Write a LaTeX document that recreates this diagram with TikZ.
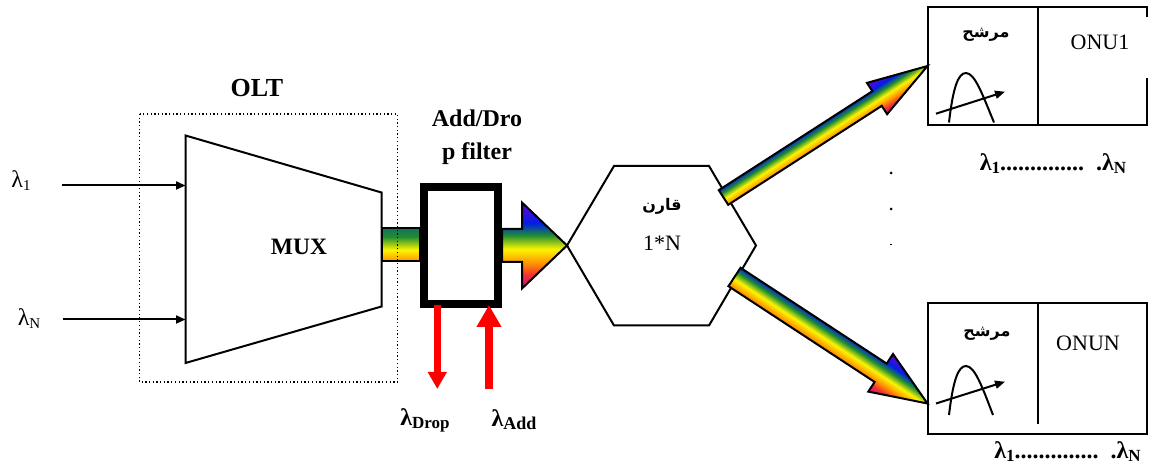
\documentclass[tikz,border=0pt]{standalone}
\usepackage{fontspec}
\setmainfont{Liberation Serif}
\newfontfamily\arabicfont[Script=Arabic]{DejaVu Sans}
\TeXXeTstate=1
\usetikzlibrary{arrows.meta,calc}

\definecolor{rbmagenta}{RGB}{214,0,160}
\definecolor{rbred}{RGB}{240,50,50}
\definecolor{rborange}{RGB}{255,150,0}
\definecolor{rbyellow}{RGB}{250,245,0}
\definecolor{rbgreen}{RGB}{30,140,50}
\definecolor{rbblue}{RGB}{0,30,230}
\definecolor{rbpurple}{RGB}{110,0,210}
\pgfdeclareverticalshading{rainbow}{100bp}{color(0bp)=(rbmagenta); color(25bp)=(rbmagenta);
    color(33bp)=(rbred); color(40bp)=(rborange); color(48bp)=(rbyellow);
    color(56bp)=(rbgreen); color(63bp)=(rbblue); color(75bp)=(rbpurple); color(100bp)=(rbpurple)}
\pgfdeclareverticalshading{rainbowshaft}{100bp}{color(0bp)=(rborange); color(25bp)=(rborange);
    color(42bp)=(rbyellow); color(62bp)=(rbgreen); color(75bp)=(rbgreen!75!rbblue); color(100bp)=(rbblue)}

\tikzstyle{outline} = [draw, line width=2pt, line join=miter]
\tikzstyle{line} = [draw, line width=2pt, -{Triangle[length=9.5pt,width=8pt]}]
\tikzstyle{redline} = [draw=red, -{Triangle[fill=red,length=17pt,width=18pt]}]
\tikzstyle{rainbowbody} = [draw, line width=2pt, shade, shading=rainbow, miter limit=20]
\tikzstyle{bold} = [font=\fontsize{24}{33}\selectfont\bfseries, align=center, inner sep=0pt]
\tikzstyle{plain} = [font=\fontsize{22}{24}\selectfont, inner sep=0pt]
\tikzstyle{lamtext} = [font=\fontsize{24}{24}\selectfont, inner sep=0pt]
\tikzstyle{lambold} = [font=\fontsize{24}{24}\selectfont\bfseries, inner sep=0pt]
\tikzstyle{arabic} = [font=\fontsize{16}{18}\selectfont\arabicfont\bfseries, inner sep=0pt]
\tikzstyle{onubox} = [draw, line width=2pt, minimum width=219.5pt, inner sep=0pt]
\tikzstyle{spot} = [fill, circle, inner sep=0pt, minimum size=3pt]

\newcommand{\sublam}[2]{λ\raisebox{-3pt}{\fontsize{#1}{#1}\selectfont #2}}
\newcommand{\rainbowarrow}[5]{%
    \path let \p1=(#1), \p2=(#2), \n1={veclen(\x2-\x1,\y2-\y1)}, \n2={atan2(\y2-\y1,\x2-\x1)} in
        \pgfextra{\xdef\arrowlen{\n1}\xdef\arrowang{\n2}};
    \pgfmathsetmacro{\headbase}{\arrowlen-#5}
    \pgfmathsetmacro{\arrowend}{\arrowlen}
    \path [rainbowbody, transform canvas={shift={(#1)},rotate=\arrowang}]
        (0,-#3) -- (\headbase,-#3) -- (\headbase,-#4) -- (\arrowend,0)
        -- (\headbase,#4) -- (\headbase,#3) -- (0,#3) -- cycle;
}

\begin{document}
\begin{tikzpicture}[x=1pt,y=-1pt]
    \useasboundingbox (0,0) rectangle (1152,470);

    % Place outlines
    \coordinate (muxa) at (185.5,135.5);
    \coordinate (muxb) at (381.5,192.5);
    \coordinate (muxc) at (381.5,306.5);
    \coordinate (muxd) at (185.5,363);
    \coordinate (hexa) at (614,166);
    \coordinate (hexb) at (709,166);
    \coordinate (hexc) at (756,245.5);
    \coordinate (hexd) at (709,325.5);
    \coordinate (hexe) at (614,325.5);
    \coordinate (hexf) at (567,245.5);
    \draw [outline] (muxa) -- (muxb) -- (muxc) -- (muxd) -- cycle;
    \draw [outline] (hexa) -- (hexb) -- (hexc) -- (hexd) -- (hexe) -- (hexf) -- cycle;

    % Place nodes
    \node [font=\fontsize{26}{26}\selectfont\bfseries, inner sep=0pt] (olt) at (257,88) {OLT};
    \node [font=\fontsize{23.5}{24}\selectfont\bfseries, inner sep=0pt] (mux) at (299,247) {MUX};
    \node [draw, line width=8pt, fill=white, minimum width=74pt, minimum height=117pt, inner sep=0pt] (filter) at (461,245.5) {};
    \node [bold] (filtername) at (477,137) {Add/Dro\\p filter};
    \node [arabic] (coupler) at (662,206) {\beginR قارن\endR};
    \node [plain] (couplerports) at (662,243) {1*N};
    \node [lamtext] (lamone) at (21,181) {\sublam{15}{1}};
    \node [lamtext] (lamn) at (29,319) {\sublam{15}{N}};
    \coordinate (inone) at (62,185.5);
    \coordinate (innn) at (62.5,319.5);
    \coordinate (muxone) at (185.5,185.5);
    \coordinate (muxnn) at (185.5,319.5);

    \node [onubox, minimum height=117.5pt] (onuone) at (1037.25,66.25) {};
    \node [onubox, minimum height=130.5pt] (onunn) at (1037.25,368.75) {};
    \draw [white, line width=2.2pt] (1147,17) -- (1147,78.5);
    \coordinate (divonea) at (1038,7.5);
    \coordinate (divoneb) at (1038,125);
    \coordinate (divnna) at (1038,303.5);
    \coordinate (divnnb) at (1038,423.5);
    \draw [outline] (divonea) -- (divoneb);
    \draw [outline] (divnna) -- (divnnb);
    \node [arabic] (filterone) at (986,35) {\beginR مرشح\endR};
    \node [arabic] (filternn) at (987,334) {\beginR مرشح\endR};
    \node [plain] (onuonename) at (1100,42) {ONU1};
    \node [plain] (onunnname) at (1088,343) {ONUN};

    \node [lambold] (rangeone) at (1053,164) {\sublam{17}{1}..............\ \ .\sublam{17}{N}};
    \node [lambold] (rangenn) at (1067.5,452) {\sublam{17}{1}..............\ \ .\sublam{17}{N}};
    \node [lambold] (lamdrop) at (425,420) {\sublam{17}{Drop}};
    \node [lambold] (lamadd) at (514,420) {\sublam{18}{Add}};

    \node [spot] (dotone) at (891,173) {};
    \node [spot] (dottwo) at (891,209) {};
    \node [fill, inner sep=0pt, minimum width=2.5pt, minimum height=1pt] (dotthree) at (891,244.5) {};

    % Draw edges
    \path [line] (inone) -- (muxone);
    \path [line] (innn) -- (muxnn);

    \path [outline, shade, shading=rainbowshaft] (381.5,228) rectangle (420,261);
    \coordinate (filterout) at (502,245.5);
    \rainbowarrow{filterout}{hexf}{16.5}{43}{45}

    \coordinate (tailone) at (723.5,197.5);
    \coordinate (tipone) at (927.5,66);
    \coordinate (tailnn) at (734.5,277);
    \coordinate (tipnn) at (927.5,403.5);
    \rainbowarrow{tailone}{tipone}{8.7}{18.6}{60}
    \rainbowarrow{tailnn}{tipnn}{11}{22.5}{56}

    \coordinate (dropa) at (437.3,305);
    \coordinate (dropb) at (437.3,389);
    \coordinate (adda) at (489,389);
    \coordinate (addb) at (489,305);
    \path [redline, line width=6.5pt] (dropa) -- (dropb);
    \path [redline, line width=8pt, -{Triangle[fill=red,length=22pt,width=23.5pt]}] (adda) -- (addb);

    % filter curves
    \coordinate (curveonea) at (949,122.5);
    \coordinate (curveoneb) at (994,122.5);
    \coordinate (curvenna) at (949,415);
    \coordinate (curvennb) at (993,415);
    \draw [line width=2pt] (curveonea) .. controls (953,88) and (958,73) .. (966,73) .. controls (975,73) and (983,96) .. (curveoneb);
    \draw [line width=2pt] (curvenna) .. controls (953,381) and (958,366) .. (966,366) .. controls (975,366) and (983,389) .. (curvennb);
    \coordinate (tuneonea) at (936,113.7);
    \coordinate (tuneoneb) at (1005,91.7);
    \coordinate (tunenna) at (936,403.5);
    \coordinate (tunennb) at (1005,381.7);
    \path [line, -{Triangle[length=10pt,width=8pt]}] (tuneonea) -- (tuneoneb);
    \path [line, -{Triangle[length=10pt,width=8pt]}] (tunenna) -- (tunennb);

    % dotted frame goes over the rest
    \draw [line width=1.3pt, dash pattern=on 1.3pt off 2.4pt] (139.5,114) rectangle (397.5,382);
\end{tikzpicture}
\end{document}
